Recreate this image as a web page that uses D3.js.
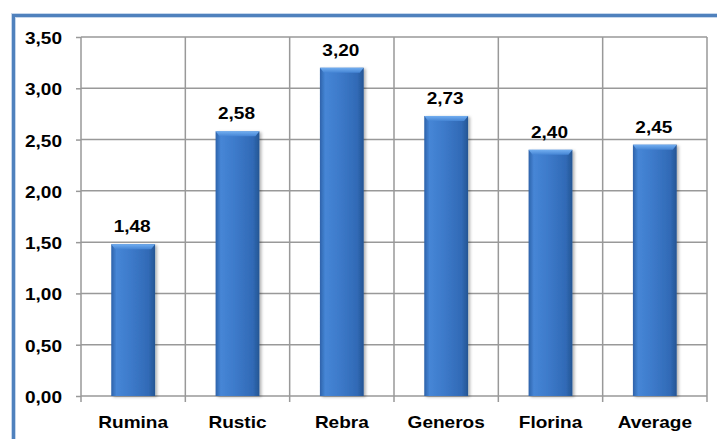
<!DOCTYPE html>
<html>
<head>
<meta charset="utf-8">
<script src="https://cdn.jsdelivr.net/npm/d3@7"></script>
<style>
  body { margin: 0; background: #fff; }
  svg text { font-family: "Liberation Sans", Arial, sans-serif; font-weight: bold; fill: #000; }
</style>
</head>
<body>
<div id="chart"></div>
<script>
const categories = ['Rumina', 'Rustic', 'Rebra', 'Generos', 'Florina', 'Average'];
const values = [1.48, 2.58, 3.20, 2.73, 2.40, 2.45];
const yTicks = [0, 0.5, 1, 1.5, 2, 2.5, 3, 3.5];

const width = 717, height = 439;
const plotLeft = 81, plotRight = 707, plotTop = 37, plotBottom = 396;
const fmt = v => v.toFixed(2).replace('.', ',');
const sx = 1.12; // text is horizontally stretched in the original

const svg = d3.select('#chart').append('svg')
  .attr('width', width).attr('height', height);

const defs = svg.append('defs');
const grad = defs.append('linearGradient').attr('id', 'barGrad')
  .attr('x1', 0).attr('x2', 1).attr('y1', 0).attr('y2', 0);
[['0%', '#2d62aa'], ['12%', '#4686d6'], ['45%', '#3d7aca'], ['85%', '#316ab6'], ['100%', '#255593']]
  .forEach(([o, c]) => grad.append('stop').attr('offset', o).attr('stop-color', c));
const topGrad = defs.append('linearGradient').attr('id', 'topGrad')
  .attr('x1', 0).attr('x2', 0).attr('y1', 0).attr('y2', 1);
[['0%', '#72aef0'], ['100%', '#4484d4']]
  .forEach(([o, c]) => topGrad.append('stop').attr('offset', o).attr('stop-color', c));
const shadow = defs.append('filter').attr('id', 'shadow')
  .attr('x', '-20%').attr('y', '-5%').attr('width', '150%').attr('height', '115%');
shadow.append('feDropShadow').attr('dx', 2).attr('dy', 1).attr('stdDeviation', 1.5)
  .attr('flood-color', '#000').attr('flood-opacity', 0.3);

// outer frame
svg.append('path')
  .attr('d', `M13.5,${height + 2} L13.5,15.5 L${width + 2},15.5`)
  .attr('fill', 'none').attr('stroke', '#c6d7ec').attr('stroke-width', 5);
svg.append('path')
  .attr('d', `M13.5,${height + 2} L13.5,15.5 L${width + 2},15.5`)
  .attr('fill', 'none').attr('stroke', '#4f81bd').attr('stroke-width', 3);

const x = d3.scaleBand().domain(categories).range([plotLeft, plotRight]).paddingInner(0).paddingOuter(0);
const y = d3.scaleLinear().domain([0, 3.5]).range([plotBottom, plotTop]);

// horizontal gridlines + left ticks
const yAxis = svg.append('g')
  .attr('transform', `translate(${plotLeft},0)`)
  .call(d3.axisLeft(y).tickValues(yTicks).tickSize(5).tickFormat(''));
yAxis.select('.domain').remove();
yAxis.selectAll('line').attr('stroke', '#999').attr('stroke-width', 1.5);
svg.append('g').selectAll('line').data(yTicks).join('line')
  .attr('x1', plotLeft).attr('x2', plotRight)
  .attr('y1', d => y(d)).attr('y2', d => y(d))
  .attr('stroke', '#999').attr('stroke-width', 1.5);

// vertical gridlines at category boundaries
const bounds = categories.map(c => x(c)).concat([x(categories[categories.length - 1]) + x.bandwidth()]);
svg.append('g').selectAll('line').data(bounds).join('line')
  .attr('x1', d => d).attr('x2', d => d)
  .attr('y1', plotTop).attr('y2', plotBottom + 6)
  .attr('stroke', '#999').attr('stroke-width', 1.5);

// y tick labels
svg.append('g').selectAll('text').data(yTicks).join('text')
  .attr('text-anchor', 'end')
  .attr('font-size', 17)
  .attr('transform', d => `translate(62,${y(d) + 7}) scale(${sx},1)`)
  .text(fmt);

// bars
const barW = x.bandwidth() * 0.42;
const bars = svg.append('g');
const data = categories.map((c, i) => ({ c, v: values[i] }));
bars.selectAll('rect.bar').data(data).join('rect')
  .attr('class', 'bar')
  .attr('x', d => x(d.c) + (x.bandwidth() - barW) / 2)
  .attr('y', d => y(d.v))
  .attr('width', barW)
  .attr('height', d => plotBottom - y(d.v))
  .attr('fill', 'url(#barGrad)')
  .attr('filter', 'url(#shadow)');
bars.selectAll('path.bevel').data(data).join('path')
  .attr('class', 'bevel')
  .attr('d', d => {
    const x0 = x(d.c) + (x.bandwidth() - barW) / 2, y0 = y(d.v);
    return `M${x0},${y0} L${x0 + barW},${y0} L${x0 + barW - 4},${y0 + 5} L${x0 + 4},${y0 + 5} Z`;
  })
  .attr('fill', 'url(#topGrad)');

// value labels
svg.append('g').selectAll('text').data(data).join('text')
  .attr('text-anchor', 'middle')
  .attr('font-size', 17)
  .attr('transform', d => `translate(${x(d.c) + x.bandwidth() / 2 - 1},${y(d.v) - 12}) scale(${sx},1)`)
  .text(d => fmt(d.v));

// category labels
svg.append('g').selectAll('text').data(categories).join('text')
  .attr('text-anchor', 'middle')
  .attr('font-size', 17)
  .attr('transform', d => `translate(${x(d) + x.bandwidth() / 2},428) scale(${sx},1)`)
  .text(d => d);
</script>
</body>
</html>
